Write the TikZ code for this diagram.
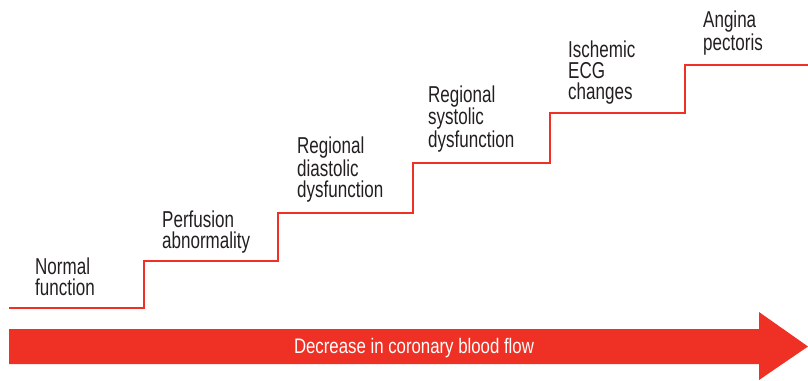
\documentclass[tikz,border=0pt]{standalone}
\usepackage{fontspec}
\setmainfont{Liberation Sans}[FakeStretch=0.74]
\newfontfamily\flowfont{Liberation Sans}[FakeStretch=0.8]
\definecolor{stepred}{HTML}{EE3124}
\definecolor{textgray}{HTML}{231F20}
\begin{document}
\begin{tikzpicture}[x=1pt,y=-1pt,
  lbl/.style={font=\fontsize{23}{21}\selectfont, align=left, anchor=base west, inner sep=0pt, text=textgray},
  flowtext/.style={font=\flowfont\fontsize{21}{22}\selectfont, text=white, inner sep=0pt, anchor=base}]
\useasboundingbox (0,0) rectangle (808,380);
\draw[stepred, line width=1.3pt] (9,308) -| (144,261) -| (278,213) -| (413,163) -| (550,113) -| (685,65) -- (808,65);
\fill[stepred] (9,329) -- (759,329) -- (759,312) -- (808,346.5) -- (759,380) -- (759,364) -- (9,364) -- cycle;
\node[flowtext] (flow) at (414,353) {Decrease in coronary blood flow};
\node[lbl] (normal) at (35,295) {Normal\\function};
\node[lbl] (perf) at (162,248) {Perfusion\\abnormality};
\node[lbl] (diast) at (297,197) {Regional\\diastolic\\dysfunction};
\node[lbl] (syst) at (428,147) {Regional\\systolic\\dysfunction};
\node[lbl] (ecg) at (568,99) {Ischemic\\ECG\\changes};
\node[lbl] (angina) at (703,50) {Angina\\pectoris};
\end{tikzpicture}
\end{document}
